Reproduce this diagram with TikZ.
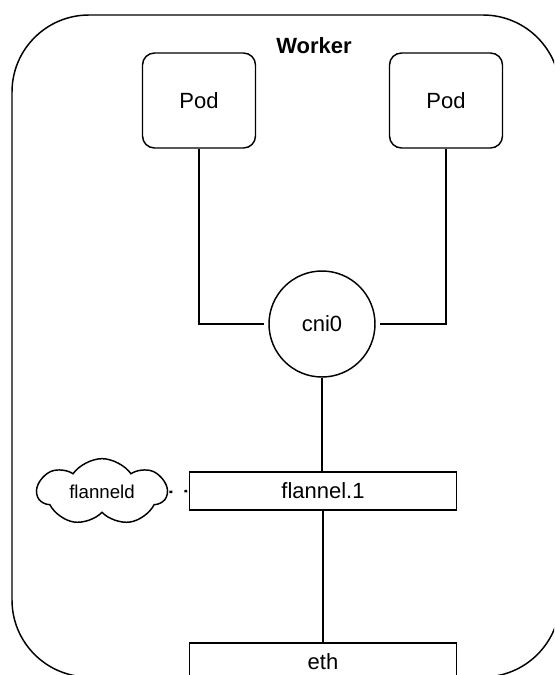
\documentclass[tikz,border=0pt]{standalone}
\usepackage{fontspec}
\setmainfont{Liberation Sans}
\usepackage{tikz}
\usetikzlibrary{shapes.geometric, shapes.symbols}
\tikzstyle{podbox} = [draw, line width=1.1pt, rounded corners=9pt, minimum width=84.75pt, minimum height=71.25pt, font=\fontsize{16.5}{18}\selectfont]
\tikzstyle{ifbox} = [draw, line width=1.1pt, minimum width=200.5pt, minimum height=28.5pt, font=\fontsize{16.5}{18}\selectfont]
\tikzstyle{bridge} = [draw, circle, line width=1.1pt, minimum size=79.5pt, font=\fontsize{16.5}{18}\selectfont]
\tikzstyle{daemon} = [draw, cloud, cloud puffs=7, cloud puff arc=110, aspect=1.9, line width=1.1pt, minimum width=97pt, minimum height=50pt, inner sep=0pt, font=\fontsize{14}{16}\selectfont]
\tikzstyle{link} = [line width=1.1pt]

\begin{document}
\begin{tikzpicture}[x=0.75pt,y=-0.75pt]
	\useasboundingbox (0,0) rectangle (554,675);
	\clip (0,0) rectangle (554,675);
	
	% Worker node (runs past the right and bottom edges)
	\draw[link, rounded corners=57.75pt] (12,15) rectangle (560,677);
	\node[font=\bfseries\fontsize{16.5}{18}\selectfont] (worker) at (314,46) {Worker};
	
	% Pods
	\node[podbox] (pod1) at (199,100.5) {Pod};
	\node[podbox] (pod2) at (446,100.5) {Pod};
	
	% bridge and interfaces
	\node[bridge] (cni) at (322,324) {cni0};
	\node[ifbox] (flannel) at (323,491) {flannel.1};
	\node[ifbox] (eth) at (323,662) {eth};
	\node[daemon] (flanneld) at (102,492) {flanneld};
	
	% links
	\draw[link, shorten >=3pt] (pod1.south) |- (cni.west);
	\draw[link, shorten <=3.5pt] (cni.east) -| (pod2.south);
	\draw[link] (cni.south) -- (cni.south |- flannel.north);
	\draw[link] (flannel.south) -- (eth.north);
	\draw[line width=1.8pt, dash pattern=on 2.2pt off 9pt, shorten <=0.75pt] (flanneld.east) -- (flannel.west);
	
\end{tikzpicture}
\end{document}
